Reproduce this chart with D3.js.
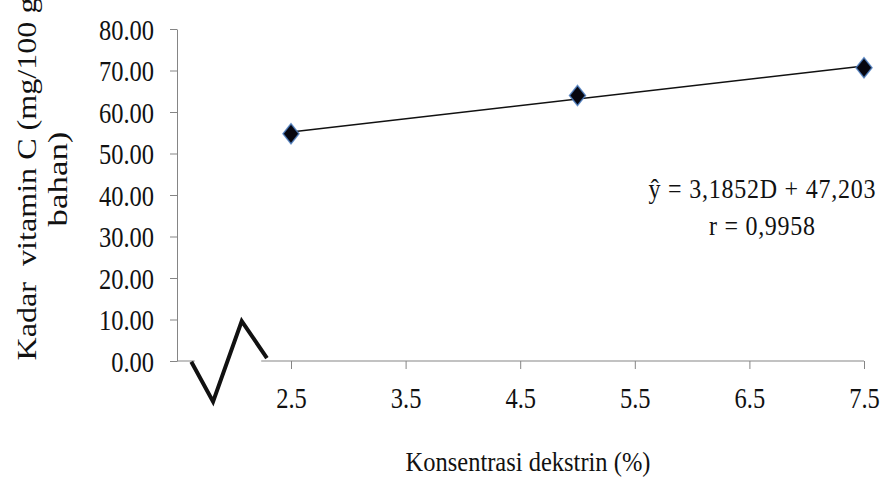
<!DOCTYPE html>
<html>
<head>
<meta charset="utf-8">
<script src="https://cdn.jsdelivr.net/npm/d3@7"></script>
<style>
  body { margin: 0; background: #fff; }
  svg { display: block; font-family: "Liberation Serif", "Times New Roman", serif; }
</style>
</head>
<body>
<script>
// data
var konsentrasi = [2.5, 5.0, 7.5];
var vitaminC = [54.75, 63.98, 70.67];
var xTicks = [2.5, 3.5, 4.5, 5.5, 6.5, 7.5];
var yTicks = [0, 10, 20, 30, 40, 50, 60, 70, 80];
var slope = 3.1852, intercept = 47.203;
var eqLines = ["ŷ = 3,1852D + 47,203", "r = 0,9958"];
// axis break zigzag, in axis units
var breakX = [1.63, 1.82, 2.07, 2.29];
var breakY = [-0.2, -9.8, 9.6, 0.7];

var W = 883, H = 493;
var axisX = 177;

var svg = d3.select("body").append("svg")
  .attr("width", W).attr("height", H);

var x = d3.scaleLinear().domain([2.5, 7.5]).range([291, 864]);
var y = d3.scaleLinear().domain([0, 80]).range([361, 29]);

var grey = "#858585";

// y axis
var gy = svg.append("g")
  .attr("transform", "translate(" + axisX + ",0)")
  .call(d3.axisLeft(y).tickValues(yTicks).tickSize(7).tickSizeOuter(0)
    .tickFormat(d3.format(".2f")))
  .attr("font-family", null).attr("font-size", null);
gy.select(".domain").attr("stroke", grey);
gy.selectAll(".tick line").attr("stroke", grey);
gy.selectAll(".tick text")
  .attr("x", 0).attr("dy", "0.35em")
  .attr("transform", "translate(-23,0) scale(1,1.2)")
  .attr("font-size", 24.5).attr("fill", "#111");

// x axis (ticks + labels, domain drawn by hand because of the break)
var gx = svg.append("g")
  .attr("transform", "translate(0," + y(0) + ")")
  .call(d3.axisBottom(x).tickValues(xTicks).tickSize(8).tickSizeOuter(0)
    .tickFormat(d3.format(".1f")))
  .attr("font-family", null).attr("font-size", null);
gx.select(".domain").remove();
gx.selectAll(".tick line").attr("stroke", grey);
gx.selectAll(".tick text")
  .attr("y", 0).attr("dy", 0)
  .attr("transform", "translate(0,47) scale(1,1.2)")
  .attr("font-size", 24.5).attr("fill", "#111");

// x axis line pieces
svg.append("line")
  .attr("x1", axisX).attr("x2", x(1.66))
  .attr("y1", y(0)).attr("y2", y(0))
  .attr("stroke", grey);
svg.append("line")
  .attr("x1", x(2.24)).attr("x2", x(7.5))
  .attr("y1", y(0)).attr("y2", y(0))
  .attr("stroke", grey);

// break symbol
svg.append("path")
  .datum(d3.zip(breakX, breakY))
  .attr("d", d3.line().x(function(d) { return x(d[0]); }).y(function(d) { return y(d[1]); }))
  .attr("fill", "none")
  .attr("stroke", "#111")
  .attr("stroke-width", 4)
  .attr("stroke-linejoin", "miter");

// trend line
var lineEnds = [konsentrasi[0], konsentrasi[konsentrasi.length - 1]];
svg.append("line")
  .attr("x1", x(lineEnds[0])).attr("y1", y(slope * lineEnds[0] + intercept))
  .attr("x2", x(lineEnds[1])).attr("y2", y(slope * lineEnds[1] + intercept))
  .attr("stroke", "#111").attr("stroke-width", 1.6);

// markers
var diamond = "M0,-10L8,0L0,10L-8,0Z";
svg.selectAll(".pt")
  .data(d3.zip(konsentrasi, vitaminC))
  .enter().append("path")
  .attr("class", "pt")
  .attr("d", diamond)
  .attr("transform", function(d) { return "translate(" + x(d[0]) + "," + y(d[1]) + ")"; })
  .attr("fill", "#06060f")
  .attr("stroke", "#4a7cc0")
  .attr("stroke-width", 1.5)
  .attr("stroke-opacity", 0.8);

// equation
var eqLens = [227, 106];
svg.selectAll(".eq")
  .data(eqLines)
  .enter().append("text")
  .attr("class", "eq")
  .attr("transform", function(d, i) { return "translate(762," + (198 + i * 37) + ") scale(1,1.1)"; })
  .attr("text-anchor", "middle")
  .attr("font-size", 24)
  .attr("textLength", function(d, i) { return eqLens[i]; })
  .attr("lengthAdjust", "spacing")
  .attr("fill", "#111")
  .text(function(d) { return d; });

// axis titles
svg.append("text")
  .attr("transform", "translate(528,471) scale(1,1.1)")
  .attr("text-anchor", "middle")
  .attr("font-size", 24.5)
  .attr("fill", "#111")
  .text("Konsentrasi dekstrin (%)");

var yTitle = ["Kadar  vitamin C (mg/100 g", "bahan)"];
var yTitleLen = [363, 95];
svg.selectAll(".ytitle")
  .data(yTitle)
  .enter().append("text")
  .attr("class", "ytitle")
  .attr("transform", function(d, i) { return "translate(" + (36 + i * 31) + ",179) rotate(-90)"; })
  .attr("text-anchor", "middle")
  .attr("font-size", 27)
  .attr("textLength", function(d, i) { return yTitleLen[i]; })
  .attr("lengthAdjust", "spacingAndGlyphs")
  .style("white-space", "pre")
  .attr("fill", "#111")
  .text(function(d) { return d; });
</script>
</body>
</html>
